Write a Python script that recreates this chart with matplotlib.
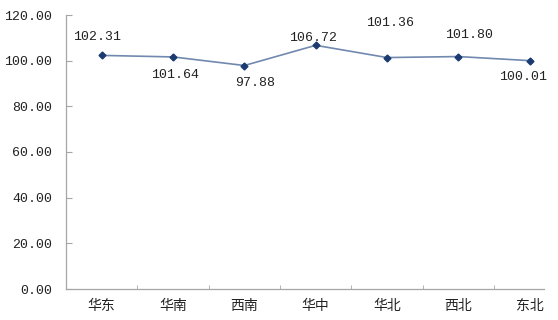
import matplotlib
matplotlib.use('Agg')
import matplotlib.pyplot as plt
import numpy as np

# data
regions = ['华东', '华南', '西南', '华中', '华北', '西北', '东北']
values = [102.31, 101.64, 97.88, 106.72, 101.36, 101.80, 100.01]
yticks = [0, 20, 40, 60, 80, 100, 120]

# label offsets (pixels) for each point label
label_offsets = [(-5, 18), (2, -18), (11, -17), (-3, 7), (3, 35), (11, 22), (-7, -16)]

num_font = ['Liberation Mono', 'DejaVu Sans Mono']
cjk_font = ['Noto Sans CJK SC', 'DejaVu Sans']

fig = plt.figure(figsize=(5.58, 3.2), dpi=100)
ax = fig.add_axes([66/558, 31/320, (544-66)/558, (289-15)/320])

x = np.arange(len(regions))
ax.plot(x, values, color='#7189AE', linewidth=1.2, marker='D', markersize=3.5,
        markerfacecolor='#1B3A70', markeredgecolor='#1B3A70', zorder=3)

for xi, v, (dx, dy) in zip(x, values, label_offsets):
    ax.annotate('%.2f' % v, (xi, v), xytext=(dx, dy), textcoords='offset pixels',
                ha='center', va='center', fontsize=9.5, family=num_font, color='#222222')

ax.set_xlim(-0.5, 6.2)
ax.set_ylim(0, 120)
ax.set_yticks(yticks)
ax.set_yticklabels(['%.2f' % t for t in yticks], family=num_font, fontsize=9.5, color='#222222')
ax.set_xticks(x)
ax.set_xticklabels(regions, family=cjk_font, fontsize=10, color='#222222')
ax.set_xticks(x[:-1] + 0.5, minor=True)

for s in ['top', 'right']:
    ax.spines[s].set_visible(False)
for s in ['left', 'bottom']:
    ax.spines[s].set_color('#A6A6A6')
    ax.spines[s].set_linewidth(0.9)

ax.tick_params(axis='x', which='major', length=0, pad=7)
ax.tick_params(axis='x', which='minor', direction='in', length=3, color='#A6A6A6')
ax.tick_params(axis='y', direction='in', length=4, color='#A6A6A6', pad=10)

fig.savefig('out.png', dpi=100)
